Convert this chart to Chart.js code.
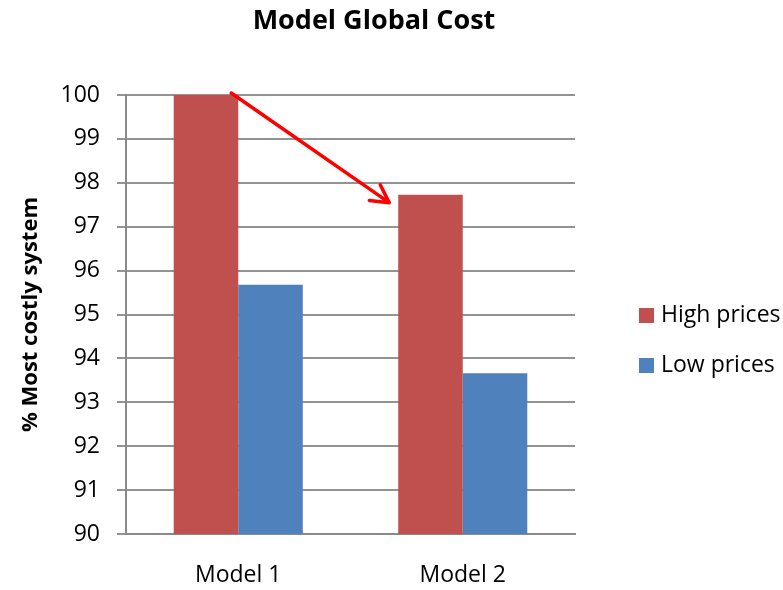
<!DOCTYPE html>
<html>
<head>
<meta charset="utf-8">
<title>Model Global Cost</title>
<script src="https://cdn.jsdelivr.net/npm/chart.js@4.4.1/dist/chart.umd.min.js"></script>
<style>
    html, body { margin: 0; padding: 0; background: #ffffff; }
    #wrap { width: 783px; height: 590px; position: relative; }
</style>
</head>
<body>
<div id="wrap"><canvas id="cost"></canvas></div>
<script>
(function () {
    'use strict';

    // 数据
    var CATEGORIES = ['Model 1', 'Model 2'];
    var SERIES_NAMES = ['High prices', 'Low prices'];
    var HIGH_PRICES = [100, 97.73];
    var LOW_PRICES = [95.68, 93.66];
    var Y_TICKS = [90, 91, 92, 93, 94, 95, 96, 97, 98, 99, 100];

    var TITLE = 'Model Global Cost';
    var Y_TITLE = '% Most costly system';

    var COLORS = {
        high: '#C0504D',
        low: '#4F81BD',
        grid: '#939393',
        axis: '#8a8a8a',
        text: '#000000',
        arrow: '#FF0000'
    };
    var FONT = "'Open Sans', 'Liberation Sans', sans-serif";
    var TEXT_SIZE = 23;

    // 标题 + 右侧图例（自绘，位置更好控制）
    var decorPlugin = {
        id: 'decor',
        afterDraw: function (chart) {
            var ctx = chart.ctx;
            ctx.save();
            ctx.fillStyle = COLORS.text;
            ctx.textBaseline = 'middle';
            ctx.textAlign = 'center';
            ctx.font = 'bold 27px ' + FONT;
            ctx.fillText(TITLE, 374, 21);

            ctx.textAlign = 'left';
            ctx.font = TEXT_SIZE + 'px ' + FONT;
            var ds = chart.data.datasets;
            for (var i = 0; i < ds.length; i++) {
                var y = 315 + i * 50;
                ctx.fillStyle = ds[i].backgroundColor;
                ctx.fillRect(639, y - 7, 15, 15);
                ctx.fillStyle = COLORS.text;
                ctx.fillText(ds[i].label, 661, y);
            }
            ctx.restore();
        }
    };

    // 从 Model 1 高价柱顶指向 Model 2 高价柱的红色箭头
    var arrowPlugin = {
        id: 'arrow',
        afterDatasetsDraw: function (chart) {
            var bars = chart.getDatasetMeta(0).data;
            if (!bars || bars.length < 2) return;
            var a = bars[0], b = bars[1];
            var x1 = a.x + a.width / 2 - 7;
            var y1 = a.y - 2;
            var x2 = b.x - b.width / 2 - 9;
            var y2 = b.y + 8;
            var ang = Math.atan2(y2 - y1, x2 - x1);
            var head = 20, spread = 0.5;

            var ctx = chart.ctx;
            ctx.save();
            ctx.strokeStyle = COLORS.arrow;
            ctx.lineWidth = 3.5;
            ctx.lineCap = 'round';
            ctx.lineJoin = 'round';
            ctx.beginPath();
            ctx.moveTo(x1, y1);
            ctx.lineTo(x2, y2);
            ctx.moveTo(x2 - head * Math.cos(ang - spread), y2 - head * Math.sin(ang - spread));
            ctx.lineTo(x2, y2);
            ctx.lineTo(x2 - head * Math.cos(ang + spread), y2 - head * Math.sin(ang + spread));
            ctx.stroke();
            ctx.restore();
        }
    };

    var ctx = document.getElementById('cost').getContext('2d');

    new Chart(ctx, {
        type: 'bar',
        data: {
            labels: CATEGORIES,
            datasets: [{
                label: SERIES_NAMES[0],
                data: HIGH_PRICES,
                backgroundColor: COLORS.high,
                borderWidth: 0,
                categoryPercentage: 0.575,
                barPercentage: 1.0
            }, {
                label: SERIES_NAMES[1],
                data: LOW_PRICES,
                backgroundColor: COLORS.low,
                borderWidth: 0,
                categoryPercentage: 0.575,
                barPercentage: 1.0
            }]
        },
        options: {
            responsive: true,
            maintainAspectRatio: false,
            animation: false,
            layout: {
                padding: { top: 95, right: 208, bottom: 0, left: 0 }
            },
            plugins: {
                legend: { display: false },
                title: { display: false },
                tooltip: { enabled: false }
            },
            scales: {
                x: {
                    grid: { display: false, drawTicks: false },
                    border: { display: true, color: COLORS.axis, width: 2 },
                    ticks: {
                        color: COLORS.text,
                        font: { family: FONT, size: TEXT_SIZE },
                        padding: 28
                    },
                    afterFit: function (scale) { scale.height = 56; }
                },
                y: {
                    min: Y_TICKS[0],
                    max: Y_TICKS[Y_TICKS.length - 1],
                    afterBuildTicks: function (scale) {
                        scale.ticks = Y_TICKS.map(function (v) { return { value: v }; });
                    },
                    grid: {
                        color: COLORS.grid,
                        lineWidth: 2,
                        drawTicks: true,
                        tickLength: 9
                    },
                    border: { display: true, color: COLORS.axis, width: 2 },
                    ticks: {
                        color: COLORS.text,
                        font: { family: FONT, size: TEXT_SIZE },
                        padding: 17
                    },
                    title: {
                        display: true,
                        text: Y_TITLE,
                        color: COLORS.text,
                        font: { family: FONT, size: 22, weight: 'bold' },
                        padding: { top: 18, bottom: 0 }
                    },
                    afterFit: function (scale) { scale.width = 126; }
                }
            }
        },
        plugins: [arrowPlugin, decorPlugin]
    });
})();
</script>
</body>
</html>
